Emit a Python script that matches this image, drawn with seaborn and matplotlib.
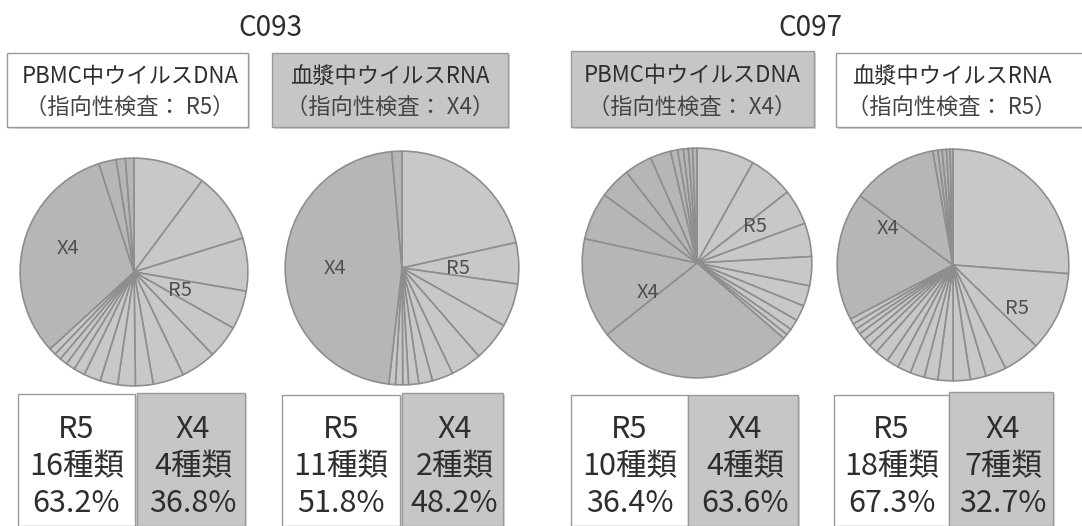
import matplotlib
matplotlib.use("Agg")
import matplotlib.pyplot as plt
import seaborn as sns
from matplotlib.patches import Rectangle

sns.set_theme(style="white")
plt.rcParams['font.family'] = ['Noto Sans CJK JP', 'DejaVu Sans']

# ---------------- data ----------------
group_titles = ["C093", "C097"]
header_line1 = ["PBMC中ウイルスDNA", "血漿中ウイルスRNA", "PBMC中ウイルスDNA", "血漿中ウイルスRNA"]
header_line2 = ["（指向性検査： R5）", "（指向性検査： X4）", "（指向性検査： X4）", "（指向性検査： R5）"]
header_tropism = ["R5", "X4", "X4", "R5"]

# slice shares (%) clockwise from 12 o'clock
pie1_values = [10.2, 10.0, 7.5, 5.5, 4.7, 5.0, 4.4, 2.5, 2.5, 2.5, 2.4, 1.6, 1.3, 1.1, 1.0, 1.0,
               31.8, 2.5, 1.3, 1.2]
pie1_types = ["R5"] * 16 + ["X4"] * 4
pie2_values = [21.5, 5.7, 6.0, 5.4, 4.3, 2.9, 1.9, 1.4, 0.8, 1.0, 0.9,
               46.8, 1.4]
pie2_types = ["R5"] * 11 + ["X4"] * 2
pie3_values = [8.1, 6.3, 5.0, 4.7, 4.1, 2.9, 2.2, 1.5, 0.9, 0.7,
               27.9, 14.1, 6.7, 4.4, 3.9, 2.9, 1.0, 0.8, 0.7, 0.6, 0.6]
pie3_types = ["R5"] * 10 + ["X4"] * 11
pie4_values = [26.2, 11.1, 5.2, 2.9, 2.2, 2.4, 2.1, 1.9, 2.0, 1.9, 1.7, 1.9, 1.3, 1.1, 1.0, 0.8, 0.8, 0.8,
               17.9, 12.0, 0.7, 0.6, 0.6, 0.5, 0.4]
pie4_types = ["R5"] * 18 + ["X4"] * 7

r5_counts = ["16種類", "11種類", "10種類", "18種類"]
x4_counts = ["4種類", "2種類", "4種類", "7種類"]
r5_percent = ["63.2%", "51.8%", "36.4%", "67.3%"]
x4_percent = ["36.8%", "48.2%", "63.6%", "32.7%"]

pies = [(pie1_values, pie1_types), (pie2_values, pie2_types),
        (pie3_values, pie3_types), (pie4_values, pie4_types)]

# ---------------- style / layout ----------------
W, H = 1082, 526
type_colors = {"R5": "#c8c8c8", "X4": "#b6b6b6"}
box_fill = {"R5": "#ffffff", "X4": "#c6c6c6"}
text_col = "#2e2e2e"

pie_geom = [(134, 272, 115), (402, 268, 118), (697, 263, 116), (953, 265, 117)]
pie_label_pos = [((68, 248), (180, 290)), ((335, 268), (458, 268)),
                 ((648, 292), (755, 227)), ((888, 228), (1017, 308))]
title_pos = [(270, 28), (810, 28)]
header_boxes = [(7, 53, 241, 74), (272, 53, 236, 74), (571, 51, 243, 76), (836, 53, 260, 74)]
header_text_x = [130, 390, 692, 952]
bottom_boxes = [((18, 394, 117, 132), (137, 393, 108, 133)),
                ((282, 395, 118, 131), (402, 393, 101, 133)),
                ((571, 395, 117, 131), (688, 395, 110, 131)),
                ((834, 395, 115, 131), (949, 392, 104, 134))]

fig = plt.figure(figsize=(W / 100, H / 100), dpi=100)
fig.patch.set_facecolor("white")

# overlay axis in pixel coordinates
ov = fig.add_axes([0, 0, 1, 1])
ov.set_xlim(0, W)
ov.set_ylim(H, 0)
ov.axis("off")


def box(x, y, w, h, fill):
    ov.add_patch(Rectangle((x + 2, y + 2), w, h, facecolor="#d8d8d8", edgecolor="none", zorder=1))
    ov.add_patch(Rectangle((x, y), w, h, facecolor=fill, edgecolor="#9a9a9a", linewidth=1.0, zorder=2))


for t, (tx, ty) in zip(group_titles, title_pos):
    ov.text(tx, ty, t, fontsize=20, color=text_col, ha="center", va="center", zorder=5)

for i in range(4):
    x, y, w, h = header_boxes[i]
    box(x, y, w, h, box_fill[header_tropism[i]])
    ov.text(header_text_x[i], y + h * 0.32, header_line1[i], fontsize=16, color=text_col,
            ha="center", va="center", zorder=5)
    ov.text(header_text_x[i], y + h * 0.74, header_line2[i], fontsize=16, color="#444444",
            ha="center", va="center", zorder=5)

for i in range(4):
    (bx, by, bw, bh), (gx, gy, gw, gh) = bottom_boxes[i]
    box(bx, by, bw, bh, box_fill["R5"])
    box(gx, gy, gw, gh, box_fill["X4"])
    for k, s in enumerate(["R5", r5_counts[i], r5_percent[i]]):
        ov.text(bx + bw / 2, 430 + k * 37, s, fontsize=22, color=text_col, ha="center", va="center", zorder=5)
    for k, s in enumerate(["X4", x4_counts[i], x4_percent[i]]):
        ov.text(gx + gw / 2 + 2, 430 + k * 37, s, fontsize=22, color=text_col, ha="center", va="center", zorder=5)

for i, (vals, types) in enumerate(pies):
    cx, cy, r = pie_geom[i]
    ax = fig.add_axes([(cx - r) / W, 1 - (cy + r) / H, 2 * r / W, 2 * r / H])
    ax.pie(vals, colors=[type_colors[t] for t in types], startangle=90, counterclock=False,
           wedgeprops=dict(edgecolor="#8e8e8e", linewidth=1.2))
    ax.set_xlim(-1.01, 1.01)
    ax.set_ylim(-1.01, 1.01)
    ax.set_aspect("equal")
    ax.axis("off")
    (x4x, x4y), (r5x, r5y) = pie_label_pos[i]
    ov.text(x4x, x4y, "X4", fontsize=14.5, color="#505050", ha="center", va="center", zorder=6)
    ov.text(r5x, r5y, "R5", fontsize=14.5, color="#505050", ha="center", va="center", zorder=6)

# keep labels above pies
ov.set_zorder(10)
ov.patch.set_visible(False)

fig.savefig("out.png", dpi=100, facecolor="white")
